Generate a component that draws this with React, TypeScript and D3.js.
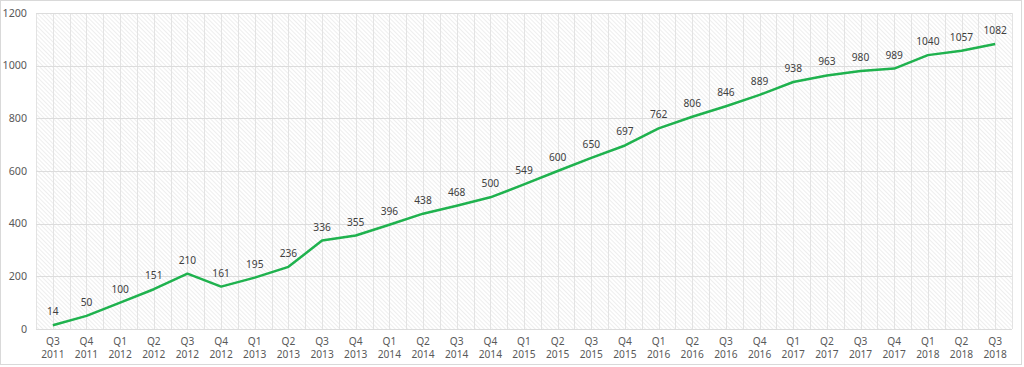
import React, { useEffect, useRef } from 'react';
import * as d3 from 'd3';

const quarters = [
  'Q3', 'Q4', 'Q1', 'Q2', 'Q3', 'Q4', 'Q1', 'Q2', 'Q3', 'Q4',
  'Q1', 'Q2', 'Q3', 'Q4', 'Q1', 'Q2', 'Q3', 'Q4', 'Q1', 'Q2',
  'Q3', 'Q4', 'Q1', 'Q2', 'Q3', 'Q4', 'Q1', 'Q2', 'Q3'
];
const years = [
  '2011', '2011', '2012', '2012', '2012', '2012', '2013', '2013', '2013', '2013',
  '2014', '2014', '2014', '2014', '2015', '2015', '2015', '2015', '2016', '2016',
  '2016', '2016', '2017', '2017', '2017', '2017', '2018', '2018', '2018'
];
const values = [
  14, 50, 100, 151, 210, 161, 195, 236, 336, 355,
  396, 438, 468, 500, 549, 600, 650, 697, 762, 806,
  846, 889, 938, 963, 980, 989, 1040, 1057, 1082
];
const yTicks = [0, 200, 400, 600, 800, 1000, 1200];

const W = 1024;
const H = 367;

function App() {
  const ref = useRef<SVGSVGElement>(null);

  useEffect(() => {
    document.body.style.margin = '0';
    const svg = d3.select(ref.current);
    svg.selectAll('*').remove();

    const margin = { top: 13, right: 12, bottom: 38, left: 36 };
    const plotW = W - margin.left - margin.right;
    const plotH = 329 - margin.top;
    const font = "'Noto Sans', 'Open Sans', sans-serif";
    const fs = 10.2;

    // outer chart frame
    svg.append('rect')
      .attr('x', 0.5).attr('y', 0.5)
      .attr('width', W - 3).attr('height', 364)
      .attr('fill', '#fff')
      .attr('stroke', '#d9d9d9');

    // diagonal hatch fill, "\\" direction
    const defs = svg.append('defs');
    const pat = defs.append('pattern')
      .attr('id', 'hatch')
      .attr('patternUnits', 'userSpaceOnUse')
      .attr('width', 3).attr('height', 3)
      .attr('patternTransform', 'rotate(-45)');
    pat.append('rect').attr('width', 3).attr('height', 3).attr('fill', '#fff');
    pat.append('line')
      .attr('x1', 0).attr('y1', 0).attr('x2', 0).attr('y2', 3)
      .attr('stroke', '#e4e4e4').attr('stroke-width', 1.2);

    const x = d3.scaleBand<number>()
      .domain(d3.range(values.length))
      .range([0, plotW]);
    const y = d3.scaleLinear().domain([0, 1200]).range([plotH, 0]);

    const g = svg.append('g')
      .attr('transform', 'translate(' + margin.left + ',' + margin.top + ')');

    g.append('rect')
      .attr('width', plotW).attr('height', plotH)
      .attr('fill', 'url(#hatch)');

    // vertical grid: band edges and centres
    const half = d3.range(values.length * 2 + 1).map(i => i * x.bandwidth() / 2);
    g.selectAll('.vgrid')
      .data(half)
      .enter()
      .append('line')
      .attr('x1', d => Math.round(d) + 0.5).attr('x2', d => Math.round(d) + 0.5)
      .attr('y1', 0).attr('y2', plotH)
      .attr('stroke', '#e3e3e3');

    g.selectAll('.hgrid')
      .data(yTicks)
      .enter()
      .append('line')
      .attr('x1', 0).attr('x2', plotW)
      .attr('y1', d => Math.round(y(d)) + 0.5).attr('y2', d => Math.round(y(d)) + 0.5)
      .attr('stroke', '#dcdcdc');

    // y labels
    g.selectAll('.ylab')
      .data(yTicks)
      .enter()
      .append('text')
      .attr('x', -9)
      .attr('y', d => y(d))
      .attr('dy', '0.35em')
      .attr('text-anchor', 'end')
      .attr('font-family', font)
      .attr('font-size', fs + 0.5)
      .attr('fill', '#595959')
      .text(d => d);

    // category labels
    const cx = (i: number) => (x(i) as number) + x.bandwidth() / 2;
    const cat = g.selectAll('.xlab')
      .data(values)
      .enter()
      .append('text')
      .attr('text-anchor', 'middle')
      .attr('font-family', font)
      .attr('font-size', fs)
      .attr('fill', '#595959');
    cat.append('tspan')
      .attr('x', (d, i) => cx(i))
      .attr('y', plotH + 16)
      .text((d, i) => quarters[i]);
    cat.append('tspan')
      .attr('x', (d, i) => cx(i))
      .attr('y', plotH + 29)
      .text((d, i) => years[i]);

    const line = d3.line<number>()
      .x((d, i) => cx(i))
      .y(d => y(d));

    g.append('path')
      .datum(values)
      .attr('d', line)
      .attr('fill', 'none')
      .attr('stroke', '#1fb24e')
      .attr('stroke-width', 2.5)
      .attr('stroke-linejoin', 'round');

    g.selectAll('.dlab')
      .data(values)
      .enter()
      .append('text')
      .attr('x', (d, i) => cx(i))
      .attr('y', d => y(d) - 10)
      .attr('text-anchor', 'middle')
      .attr('font-family', font)
      .attr('font-size', fs)
      .attr('fill', '#404040')
      .text(d => d);
  }, []);

  return <svg ref={ref} width={W} height={H} style={{ display: 'block' }} />;
}

export default App;
